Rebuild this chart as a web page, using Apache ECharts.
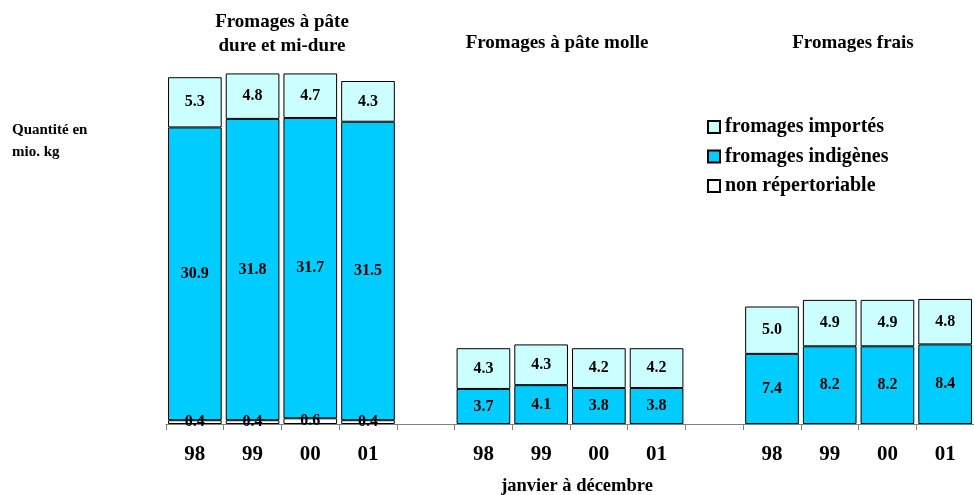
<!DOCTYPE html>
<html>
<head>
<meta charset="utf-8">
<script src="https://cdn.jsdelivr.net/npm/echarts@6/dist/echarts.min.js"></script>
<style>
html,body{margin:0;padding:0;background:#fff;}
#chart{width:974px;height:495px;}
</style>
</head>
<body>
<div id="chart"></div>
<script>
const categories = ['98','99','00','01','','98','99','00','01','','98','99','00','01'];
const nonRepertoriable = [0.4,0.4,0.6,0.4,'-','-','-','-','-','-','-','-','-','-'];
const indigenes = [30.9,31.8,31.7,31.5,'-',3.7,4.1,3.8,3.8,'-',7.4,8.2,8.2,8.4];
const importes = [5.3,4.8,4.7,4.3,'-',4.3,4.3,4.2,4.2,'-',5.0,4.9,4.9,4.8];
const groupTitles = ['Fromages à pâte\ndure et mi-dure','Fromages à pâte molle','Fromages frais'];

const FONT = '"Liberation Serif", "Times New Roman", serif';
const chart = echarts.init(document.getElementById('chart'));
const labelCfg = {
  show: true, position: 'inside', color: '#000', fontFamily: FONT,
  fontWeight: 'bold', fontSize: 16,
  formatter: p => Number(p.value).toFixed(1)
};
const mk = (name, data, color) => ({
  name, type: 'bar', stack: 'total', data, barCategoryGap: '7%',
  itemStyle: {color, borderColor: '#000', borderWidth: 1},
  label: labelCfg, animation: false
});
chart.setOption({
  animation: false,
  grid: {left: 166, top: 45, width: 812, height: 379},
  xAxis: {
    type: 'category', data: categories,
    axisLine: {lineStyle: {color: '#808080', width: 1}},
    axisTick: {show: true, length: 6, lineStyle: {color: '#808080'}},
    axisLabel: {color: '#000', fontFamily: FONT, fontWeight: 'bold', fontSize: 21, margin: 20, interval: 0}
  },
  yAxis: {type: 'value', min: 0, max: 40, show: false, splitLine: {show: false}},
  legend: {
    orient: 'vertical', left: 702, top: 112, itemWidth: 12, itemHeight: 12, itemGap: 9.5,
    icon: 'rect',
    data: ['fromages importés','fromages indigènes','non répertoriable'],
    textStyle: {color: '#000', fontFamily: FONT, fontWeight: 'bold', fontSize: 20}
  },
  series: [
    mk('non répertoriable', nonRepertoriable, '#ffffff'),
    mk('fromages indigènes', indigenes, '#00ccff'),
    mk('fromages importés', importes, '#ccffff')
  ],
  graphic: [
    {type: 'text', left: 12, top: 119, style: {text: 'Quantité en\nmio. kg', fill: '#000', font: 'bold 15px ' + FONT, lineHeight: 22}},
    {type: 'text', x: 282, y: 10, style: {text: groupTitles[0], fill: '#000', font: 'bold 19px ' + FONT, align: 'center', lineHeight: 24}},
    {type: 'text', x: 557, y: 34, style: {text: groupTitles[1], fill: '#000', font: 'bold 19px ' + FONT, align: 'center'}},
    {type: 'text', x: 853, y: 34, style: {text: groupTitles[2], fill: '#000', font: 'bold 19px ' + FONT, align: 'center'}},
    {type: 'text', x: 577, y: 477, style: {text: 'janvier à décembre', fill: '#000', font: 'bold 18.5px ' + FONT, align: 'center'}}
  ]
});
</script>
</body>
</html>
